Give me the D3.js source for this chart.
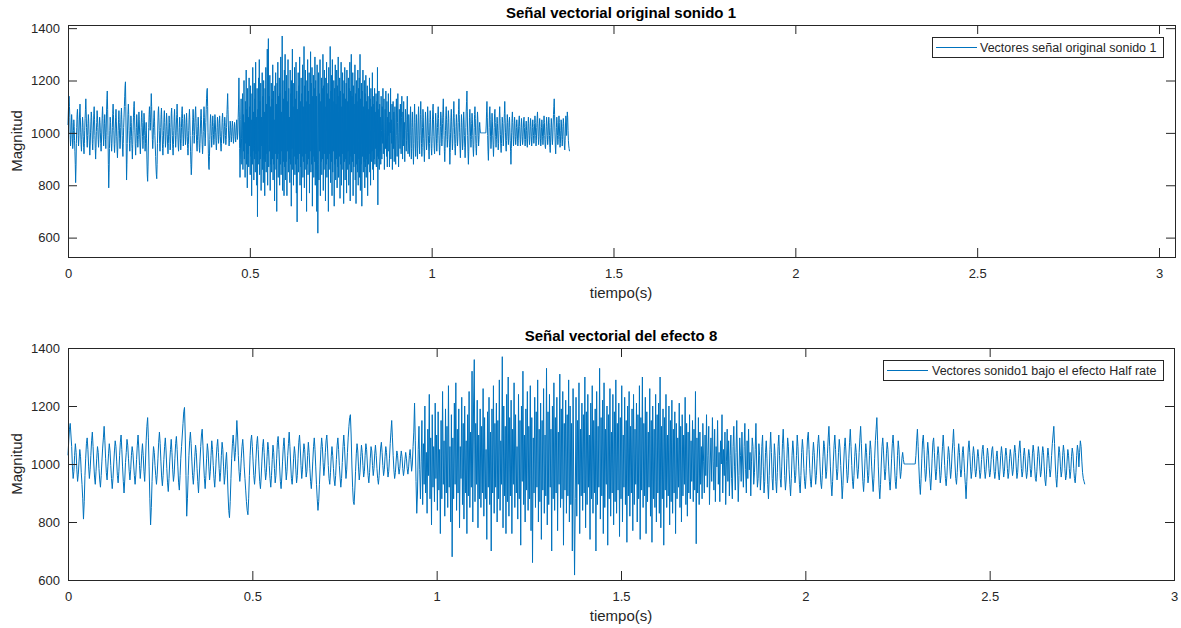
<!DOCTYPE html>
<html>
<head>
<meta charset="utf-8">
<script src="https://cdn.jsdelivr.net/npm/d3@7"></script>
<style>
  html, body { margin: 0; padding: 0; background: #ffffff; }
  svg { display: block; font-family: "Liberation Sans", Arial, Helvetica, sans-serif; }
</style>
</head>
<body>
<svg id="fig" width="1181" height="628"></svg>
<script>
// Muestras del sonido 1 (magnitud), una cada periodoOriginal segundos; 20 muestras por fila
const muestrasSonido1 = [
  1030,1080,1120,1140,1100,1060,990,950,975,1030,1070,1040,980,940,965,1010,1050,1025,970,930,
  880,810,870,960,1020,1070,1090,1050,990,950,980,1030,1080,1110,1060,1000,955,930,975,1020,
  1060,1040,985,945,920,960,1010,1055,1090,1130,1080,1020,970,945,990,1035,1070,1045,995,950,
  915,950,1000,1045,1080,1060,1010,960,935,975,1030,1075,1100,1050,990,940,900,945,1005,1040,
  1085,1065,1020,975,945,980,1030,1060,1040,1000,960,930,965,1015,1065,1100,1055,995,950,985,
  1035,1070,1030,975,940,1000,1080,1130,1160,1090,990,880,790,850,940,1010,1060,1040,995,960,
  930,965,1020,1075,1110,1070,1010,955,925,960,1015,1060,1090,1045,985,935,905,950,1010,1050,
  1085,1040,980,940,965,1020,1070,1095,1050,990,935,910,960,1020,1060,1100,1140,1180,1195,1100,
  960,820,880,960,1030,1080,1110,1070,1010,960,930,970,1025,1065,1040,985,940,900,955,1010,
  1060,1100,1120,1065,1000,950,915,960,1020,1070,1045,990,945,975,1030,1080,1050,995,950,920,
  965,1020,1060,1085,1040,985,940,970,1030,1075,1050,990,930,960,1010,1040,980,900,840,815,
  870,950,1020,1070,1100,1060,1010,1040,1090,1150,1100,1030,975,940,970,1020,1060,1085,1045,990,
  950,910,870,840,825,880,960,1030,1080,1100,1060,1010,960,930,965,1020,1070,1095,1050,990,
  940,915,955,1010,1060,1085,1040,985,945,970,1025,1075,1050,995,950,920,960,1015,1065,1040,
  985,935,960,1020,1075,1095,1050,990,940,915,955,1010,1060,1090,1045,990,945,975,1030,1070,
  1110,1060,1000,950,930,965,1020,1060,1035,980,935,960,1020,1075,1100,1055,995,950,980,1035,
  1070,1050,1000,955,975,1030,1075,1040,985,940,915,955,1010,1060,1090,1050,990,930,880,840,
  870,930,990,1050,1090,1060,1005,960,990,1040,1080,1100,1055,995,950,930,970,1025,1060,1030,
  985,945,925,960,1015,1065,1090,1050,995,955,920,950,1005,1060,1100,1060,1000,950,980,1040,
  1090,1130,1160,1170,1100,1000,920,870,860,910,975,1035,1070,1045,990,945,970,1025,1065,1040,
  995,955,975,1030,1070,1050,1000,960,935,970,1020,1060,1045,995,960,985,1035,1065,1030,985,
  950,930,960,1010,1055,1075,1040,995,960,980,1025,1060,1040,990,955,975,1020,1070,1110,1150,
  1090,1030,980,950,970,1010,1045,1030,990,965,985,1020,1045,1025,985,960,980,1015,1040,1020,
  985,965,990,1030,1050,1015,975,1000,1060,1110,1210,1080,940,830,900,1050,1130,980,880,1010,
  1150,860,1070,930,1200,900,1040,830,1120,960,1240,880,1090,790,1170,920,1060,870,1210,950,
  1100,840,1180,910,1050,760,1150,880,1250,930,1080,820,1190,900,1130,850,1270,920,1060,800,
  1170,680,1090,880,1210,930,1280,840,1120,900,1190,780,1060,950,1230,860,1140,810,1200,900,
  1080,760,1170,890,1250,850,1110,920,1320,800,1200,1360,870,1140,930,1220,780,1100,880,1190,
  850,1130,900,1260,820,1160,880,1050,740,1180,920,1230,860,1110,700,1190,900,1270,830,1140,
  920,1210,800,1150,880,1290,840,1080,930,1370,780,1200,890,1130,760,1240,870,1300,820,1160,
  890,1220,760,1120,930,1280,850,1170,900,1060,810,1240,880,1150,720,1200,940,1320,860,1100,
  800,1190,910,1250,840,1130,880,1270,770,1160,660,1090,900,1230,850,1180,920,1290,800,1120,
  870,1210,740,1150,910,1260,830,1100,890,1330,790,1180,860,1240,920,1120,700,1200,880,1280,
  840,1160,900,1230,770,1110,930,1310,850,1190,880,1250,720,1140,910,1220,830,1170,890,1290,
  800,1200,860,1140,700,1260,900,617,880,1230,820,1150,930,1280,760,1120,890,1210,840,1170,
  900,1300,780,1180,860,1240,920,1100,740,1210,880,1270,830,1150,900,1190,700,1250,860,1130,
  920,1330,810,1160,890,1220,760,1280,850,1120,930,1200,720,1170,880,1260,820,1110,900,1240,
  790,1180,870,1290,830,1140,910,1210,750,1160,880,1270,800,1100,920,1230,860,1150,730,1200,
  890,1250,820,1130,900,1190,770,1240,860,1120,930,1210,800,1170,880,1270,740,1160,910,1300,
  850,1140,890,1230,760,1180,870,1110,920,1260,820,1150,730,1200,880,1120,850,1240,800,1170,
  900,1210,830,1300,780,1130,880,1190,720,1160,910,1240,850,1100,890,1200,790,1150,870,1220,
  830,1120,900,1180,760,1140,880,1090,920,1210,850,1130,800,1170,890,1100,930,1230,860,1140,
  820,1110,900,1170,880,1080,940,1150,870,1120,910,1250,725,1090,900,1160,860,1110,930,1060,
  880,1140,1010,900,1100,960,1170,920,1030,1130,860,1000,1090,940,1160,1010,910,1120,870,1060,
  990,1150,930,1040,870,1080,1000,1170,900,1050,960,1110,860,1010,1120,940,1080,890,1030,1100,
  950,880,1060,1130,990,910,1040,1150,1000,870,960,1090,1030,940,1110,1000,920,1060,1140,980,
  900,1080,950,1120,980,1040,890,1010,1090,1060,930,970,1050,1140,1000,920,950,1070,1030,910,
  960,1060,1100,990,900,940,1040,1080,1020,930,880,960,1050,1110,1040,950,910,990,1070,1030,
  940,900,970,1060,1100,1030,950,920,990,1070,1120,1050,960,910,945,1020,1090,1060,980,930,
  890,950,1030,1080,1045,980,935,960,1030,1100,1060,990,930,900,960,1040,1085,1050,985,940,
  915,960,1030,1090,1110,1050,985,940,920,965,1030,1075,1040,980,930,960,1020,1070,1100,1055,
  990,935,915,960,1025,1080,1060,1000,950,975,1035,1090,1130,1060,990,930,890,940,1010,1065,
  1100,1050,985,945,975,1040,1085,1055,995,945,880,925,1000,1060,1090,1045,980,935,960,1020,
  1075,1120,1060,995,940,915,960,1025,1070,1040,985,950,980,1040,1090,1130,1070,1000,940,905,
  950,1020,1070,1040,980,935,960,1030,1080,1050,990,945,905,950,1020,1080,1120,1160,1080,990,
  920,880,930,1000,1060,1090,1045,985,945,975,1035,1075,1050,990,940,910,955,1020,1070,1100,
  1055,990,940,915,960,1030,1080,1050,990,950,975,1020,1040,1015,1000,1000,1000,1000,1000,1000,
  1000,1000,1000,1000,1000,1000,1000,1000,1000,1000,1030,1080,1120,1060,990,930,895,950,1020,1080,
  1100,1050,985,940,965,1030,1075,1045,990,950,910,955,1020,1075,1090,1040,985,945,975,1030,
  1060,1035,980,935,960,1010,1060,1100,1055,995,950,925,960,1015,1060,1040,990,950,980,1035,
  1075,1120,1060,1000,950,930,970,1030,1070,1040,985,955,980,1040,1060,1020,970,930,880,940,
  1000,1055,1080,1040,990,950,975,1030,1060,1035,985,955,975,1020,1050,1025,980,950,970,1015,
  1050,1065,1025,980,950,975,1020,1055,1030,985,955,970,1015,1050,1060,1020,975,950,975,1025,
  1045,1010,965,945,980,1030,1060,1035,990,955,975,1025,1055,1030,985,950,970,1020,1050,1025,
  990,960,980,1035,1065,1040,990,950,970,1020,1055,1080,1035,985,955,975,1030,1055,1025,980,
  950,970,1020,1050,1030,985,955,980,1035,1065,1040,990,950,940,975,1025,1060,1035,990,955,
  975,1030,1060,1040,990,945,925,965,1020,1055,1030,985,955,980,1030,1070,1100,1130,1070,1000,
  950,920,965,1020,1060,1040,990,955,975,1030,1065,1040,985,945,960,1010,1050,1030,985,950,
  975,1025,1055,1035,985,950,935,970,1030,1065,1045,990,1040,1080,1060,1010,970,950,940,930
];

// Periodo de muestreo (s): original y con el efecto "Half rate"
const periodoOriginal = 0.001;
const periodoHalfRate = 0.002;

const ticksX = [0, 0.5, 1, 1.5, 2, 2.5, 3];
const ticksY = [600, 800, 1000, 1200, 1400];

const titulos = ["Señal vectorial original sonido 1", "Señal vectorial del efecto 8"];
const leyendas = ["Vectores señal original sonido 1", "Vectores sonido1 bajo el efecto Half rate"];
const etiquetaX = "tiempo(s)";
const etiquetaY = "Magnitud";

const COLOR_LINEA = "#0072BD";
const COLOR_EJES = "#262626";

const svg = d3.select("#fig");

// Ejes de cada subgráfica
const paneles = [
  {
    left: 68, top: 25, right: 1175, bottom: 257,
    xDom: [0, 3.044], yDom: [526, 1412],
    periodo: periodoOriginal,
    titulo: titulos[0], leyenda: leyendas[0],
    leg: { x0: 932, x1: 1163, y0: 37, y1: 57, lx0: 936, lx1: 977, tx: 980 }
  },
  {
    left: 68, top: 348, right: 1174, bottom: 580,
    xDom: [0, 3], yDom: [600, 1400],
    periodo: periodoHalfRate,
    titulo: titulos[1], leyenda: leyendas[1],
    leg: { x0: 883, x1: 1163, y0: 360, y1: 380, lx0: 887, lx1: 928, tx: 932 }
  }
];

paneles.forEach(p => {
  const g = svg.append("g");
  const x = d3.scaleLinear().domain(p.xDom).range([p.left, p.right]);
  const y = d3.scaleLinear().domain(p.yDom).range([p.bottom, p.top]);

  const serie = muestrasSonido1.map((v, i) => ({ t: i * p.periodo, v }));

  // Señal
  g.append("path")
    .datum(serie)
    .attr("fill", "none")
    .attr("stroke", COLOR_LINEA)
    .attr("stroke-width", 1)
    .attr("stroke-linejoin", "round")
    .attr("d", d3.line().x(d => x(d.t)).y(d => y(d.v)));

  const tickLen = 9;
  const fontTick = 13;

  // Eje X inferior (marcas hacia dentro) y superior
  const xAxisB = d3.axisBottom(x).tickValues(ticksX).tickSizeInner(-tickLen).tickSizeOuter(0)
    .tickFormat(d3.format("~g")).tickPadding(12);
  const gxb = g.append("g").attr("transform", `translate(0,${p.bottom})`).call(xAxisB);
  const xAxisT = d3.axisTop(x).tickValues(ticksX).tickSizeInner(-tickLen).tickSizeOuter(0).tickFormat("");
  const gxt = g.append("g").attr("transform", `translate(0,${p.top})`).call(xAxisT);

  // Eje Y izquierdo y derecho
  const yAxisL = d3.axisLeft(y).tickValues(ticksY).tickSizeInner(-tickLen).tickSizeOuter(0)
    .tickFormat(d3.format("d")).tickPadding(8);
  const gyl = g.append("g").attr("transform", `translate(${p.left},0)`).call(yAxisL);
  const yAxisR = d3.axisRight(y).tickValues(ticksY).tickSizeInner(-tickLen).tickSizeOuter(0).tickFormat("");
  const gyr = g.append("g").attr("transform", `translate(${p.right},0)`).call(yAxisR);

  [gxb, gxt, gyl, gyr].forEach(a => {
    a.select(".domain").remove();
    a.selectAll("line").attr("stroke", COLOR_EJES).attr("stroke-width", 1);
    a.selectAll("text").attr("fill", COLOR_EJES).attr("font-size", fontTick)
      .attr("font-family", "Liberation Sans, Arial, sans-serif");
  });
  gxb.selectAll("text").attr("dy", null).attr("y", 21);

  // Caja de los ejes
  g.append("rect")
    .attr("x", p.left + 0.5).attr("y", p.top + 0.5)
    .attr("width", p.right - p.left).attr("height", p.bottom - p.top)
    .attr("fill", "none").attr("stroke", COLOR_EJES).attr("stroke-width", 1);

  // Título
  g.append("text")
    .attr("x", 621).attr("y", p.top - 7.5)
    .attr("text-anchor", "middle")
    .attr("font-size", 15).attr("font-weight", "bold").attr("fill", "#000")
    .text(p.titulo);

  // Etiquetas de los ejes
  g.append("text")
    .attr("x", 621).attr("y", p.bottom + 41)
    .attr("text-anchor", "middle").attr("font-size", 15).attr("fill", COLOR_EJES)
    .text(etiquetaX);
  const yc = (p.top + p.bottom) / 2;
  g.append("text")
    .attr("transform", `translate(21.5,${yc}) rotate(-90)`)
    .attr("text-anchor", "middle").attr("font-size", 15).attr("fill", COLOR_EJES)
    .text(etiquetaY);

  // Leyenda
  const L = p.leg;
  g.append("rect")
    .attr("x", L.x0 + 0.5).attr("y", L.y0 + 0.5)
    .attr("width", L.x1 - L.x0).attr("height", L.y1 - L.y0)
    .attr("fill", "#fff").attr("stroke", COLOR_EJES).attr("stroke-width", 1);
  const ly = (L.y0 + L.y1) / 2 + 0.5;
  g.append("line")
    .attr("x1", L.lx0).attr("x2", L.lx1).attr("y1", ly).attr("y2", ly)
    .attr("stroke", COLOR_LINEA).attr("stroke-width", 1);
  g.append("text")
    .attr("x", L.tx).attr("y", ly + 4.5)
    .attr("font-size", 12.5).attr("fill", COLOR_EJES)
    .text(p.leyenda);
});
</script>
</body>
</html>
